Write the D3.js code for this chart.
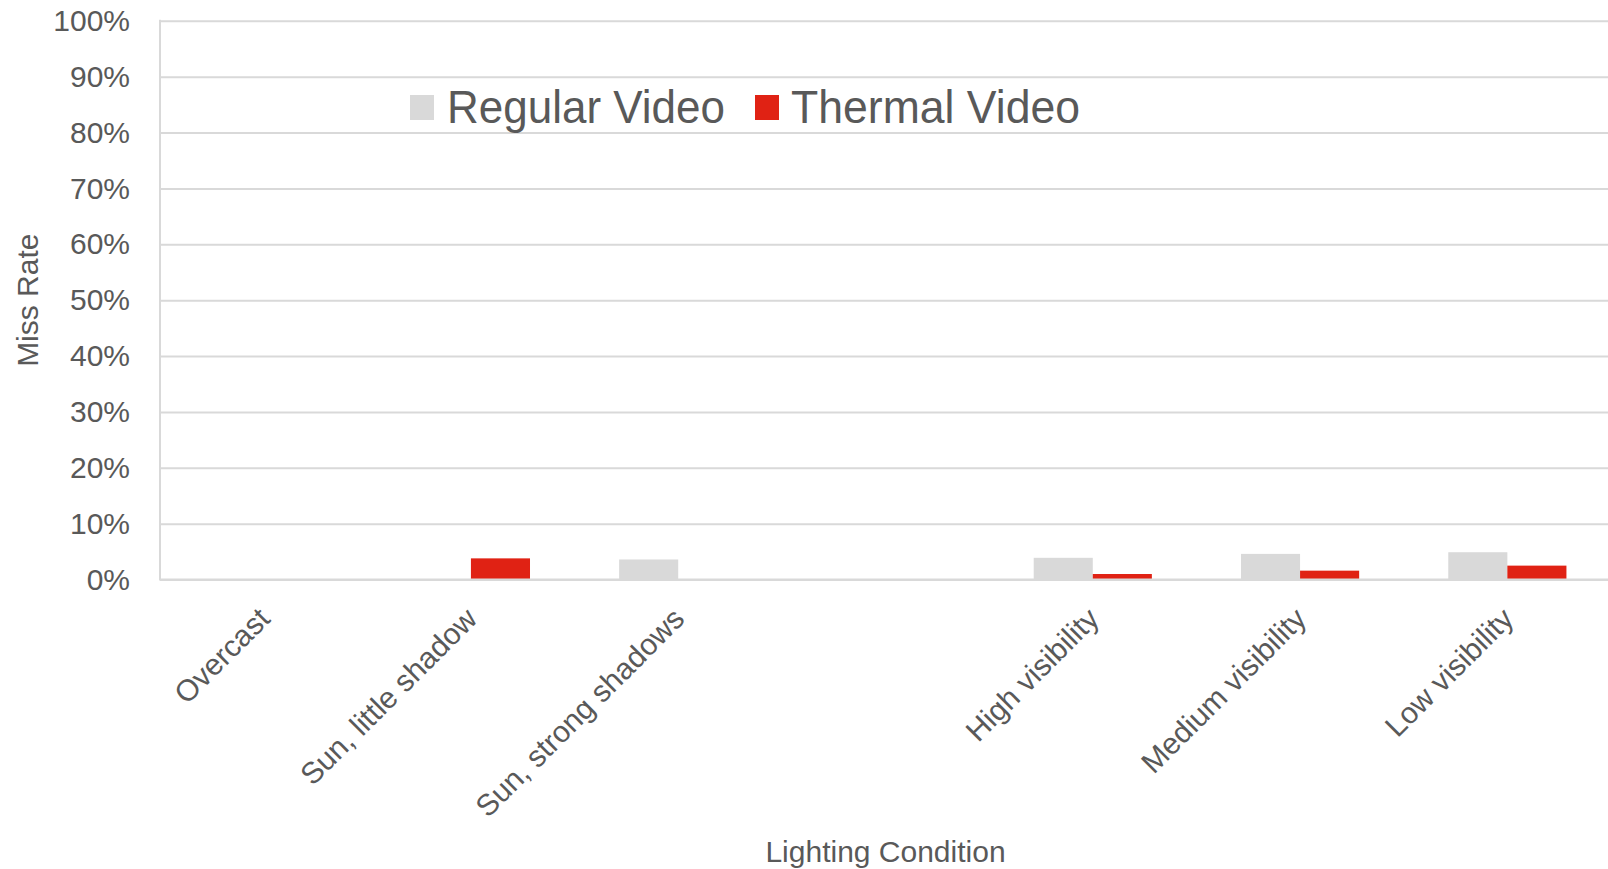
<!DOCTYPE html>
<html>
<head>
<meta charset="utf-8">
<script src="https://cdn.jsdelivr.net/npm/d3@7"></script>
<style>
  html, body { margin: 0; padding: 0; background: #ffffff; }
  svg { display: block; }
  text { font-family: "Liberation Sans", Arial, sans-serif; fill: #595959; }
</style>
</head>
<body>
<svg id="chart" width="1608" height="869"></svg>
<script>
// Lighting / visibility conditions (the empty entry is a spacer slot between the two groups)
const categories = [
  "Overcast",
  "Sun, little shadow",
  "Sun, strong shadows",
  "",
  "High visibility",
  "Medium visibility",
  "Low visibility"
];

// Miss rates per condition
const regularVideo = [0, 0, 0.036, null, 0.039, 0.046, 0.049];
const thermalVideo = [0, 0.038, 0, null, 0.010, 0.016, 0.025];

const seriesNames = ["Regular Video", "Thermal Video"];
const seriesColors = ["#d9d9d9", "#e02214"];

const yTicks = [0, 0.1, 0.2, 0.3, 0.4, 0.5, 0.6, 0.7, 0.8, 0.9, 1.0];
const yTickLabels = ["0%", "10%", "20%", "30%", "40%", "50%", "60%", "70%", "80%", "90%", "100%"];

const xTitle = "Lighting Condition";
const yTitle = "Miss Rate";

// ---- layout ----
const plot = { left: 160, right: 1611, top: 20.8, bottom: 579.6 };

const svg = d3.select("#chart");

const x0 = d3.scaleBand()
  .domain(categories)
  .range([plot.left, plot.right])
  .paddingInner(0.43)
  .paddingOuter(0.215);

const x1 = d3.scaleBand()
  .domain(seriesNames)
  .range([0, x0.bandwidth()])
  .padding(0);

const y = d3.scaleLinear()
  .domain([0, 1])
  .range([plot.bottom, plot.top]);

const color = d3.scaleOrdinal().domain(seriesNames).range(seriesColors);

// ---- gridlines ----
const grid = svg.append("g")
  .attr("transform", `translate(${plot.left},0)`)
  .call(d3.axisLeft(y)
    .tickValues(yTicks)
    .tickSize(-(plot.right - plot.left))
    .tickFormat(""));
grid.select(".domain").remove();
grid.selectAll("line")
  .attr("stroke", "#d9d9d9")
  .attr("stroke-width", 2);

// ---- bars ----
const rows = categories.map((c, i) => ({
  category: c,
  values: [
    { series: seriesNames[0], value: regularVideo[i] },
    { series: seriesNames[1], value: thermalVideo[i] }
  ].filter(d => d.value != null && d.value > 0)
}));

svg.append("g")
  .selectAll("g")
  .data(rows)
  .join("g")
  .attr("transform", d => `translate(${x0(d.category)},0)`)
  .selectAll("rect")
  .data(d => d.values)
  .join("rect")
  .attr("x", d => x1(d.series))
  .attr("width", x1.bandwidth())
  .attr("y", d => y(d.value))
  .attr("height", d => y(0) - y(d.value))
  .attr("fill", d => color(d.series));

// ---- axis lines ----
svg.append("line")
  .attr("x1", plot.left).attr("x2", plot.right)
  .attr("y1", y(0)).attr("y2", y(0))
  .attr("stroke", "#d9d9d9").attr("stroke-width", 2);
svg.append("line")
  .attr("x1", plot.left).attr("x2", plot.left)
  .attr("y1", y(1) - 1).attr("y2", y(0) + 1)
  .attr("stroke", "#d9d9d9").attr("stroke-width", 2);

// ---- y axis labels ----
const yAxis = svg.append("g")
  .attr("transform", `translate(${plot.left},0)`)
  .call(d3.axisLeft(y)
    .tickValues(yTicks)
    .tickSize(0)
    .tickPadding(30)
    .tickFormat((d, i) => yTickLabels[i]));
yAxis.select(".domain").remove();
yAxis.selectAll("text")
  .attr("font-size", 30)
  .attr("font-family", "Liberation Sans, Arial, sans-serif")
  .attr("fill", "#595959");

// ---- x axis labels (rotated) ----
const xAxis = svg.append("g")
  .attr("transform", `translate(0,${y(0)})`)
  .call(d3.axisBottom(x0).tickSize(0));
xAxis.select(".domain").remove();
xAxis.selectAll("text")
  .attr("font-size", 30)
  .attr("font-family", "Liberation Sans, Arial, sans-serif")
  .attr("fill", "#595959")
  .attr("text-anchor", "end")
  .attr("x", 0).attr("y", 0).attr("dy", 0)
  .attr("transform", "translate(8,41) rotate(-45)");

// ---- axis titles ----
svg.append("text")
  .attr("x", (plot.left + plot.right) / 2)
  .attr("y", 861.5)
  .attr("text-anchor", "middle")
  .attr("font-size", 30)
  .text(xTitle);

svg.append("text")
  .attr("transform", `translate(38,${(plot.top + plot.bottom) / 2}) rotate(-90)`)
  .attr("text-anchor", "middle")
  .attr("font-size", 30)
  .text(yTitle);

// ---- legend ----
const legendItems = [
  { name: seriesNames[0], sx: 410, tx: 447, tw: 278 },
  { name: seriesNames[1], sx: 755, tx: 791, tw: 289 }
];
const legend = svg.append("g");
legend.selectAll("rect")
  .data(legendItems)
  .join("rect")
  .attr("x", d => d.sx)
  .attr("y", 95)
  .attr("width", 24)
  .attr("height", 25)
  .attr("fill", d => color(d.name));
legend.selectAll("text")
  .data(legendItems)
  .join("text")
  .attr("x", d => d.tx)
  .attr("y", 123)
  .attr("font-size", 46)
  .attr("textLength", d => d.tw)
  .attr("lengthAdjust", "spacingAndGlyphs")
  .text(d => d.name);
</script>
</body>
</html>
